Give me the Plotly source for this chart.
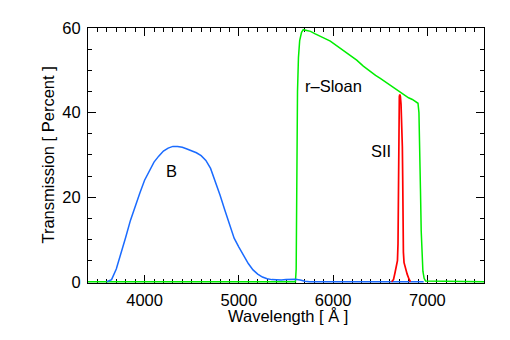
import plotly.graph_objects as go

# B filter
b_wl = [3600, 3650, 3700, 3750, 3800, 3850, 3900, 3950, 4000, 4050, 4100, 4150, 4200, 4250,
        4300, 4350, 4400, 4450, 4500, 4550, 4600, 4650, 4700, 4750, 4800, 4850, 4900, 4950,
        5000, 5050, 5100, 5150, 5200, 5250, 5300, 5350, 5400, 5450, 5500, 5550, 5600, 5650,
        5700, 5750, 6960]
b_tr = [0, 0.5, 3, 6.5, 10.5, 14.5, 18, 21, 24, 26.3, 28.3, 29.7, 30.9, 31.6,
        32.0, 32.0, 31.8, 31.4, 31.0, 30.5, 29.8, 28.7, 26.8, 23.8, 20.5, 17, 13.5, 10.3,
        8.2, 6.3, 4.3, 2.8, 1.8, 1.1, 0.7, 0.5, 0.4, 0.4, 0.5, 0.6, 0.6, 0.4,
        0.1, 0, 0]

# r-Sloan filter
r_wl = [3400, 5600, 5608, 5612, 5616, 5622, 5632, 5645, 5665, 5683, 5720, 5760, 5810, 5860,
        5915, 5970, 6020, 6070, 6125, 6180, 6250, 6320, 6400, 6450, 6500, 6545, 6585, 6620,
        6650, 6680, 6710, 6760, 6800, 6840, 6870, 6900, 6910, 6918, 6926, 6934, 6942, 6952,
        6965, 6980, 7600]
r_tr = [0, 0, 3, 15, 30, 45, 53, 57, 59, 59.6, 59.4, 59.2, 58.6, 58.0,
        57.5, 56.9, 56.1, 55.3, 54.5, 53.7, 52.4, 51.0, 49.6, 48.8, 48.1, 47.4, 46.7, 46.2,
        45.7, 45.2, 44.7, 44.0, 43.5, 43.1, 42.7, 42.2, 40, 33, 22, 12, 6, 2.5,
        0.8, 0.2, 0]

# SII filter
s_wl = [6620, 6640, 6655, 6670, 6682, 6688, 6692, 6695, 6698, 6702, 6707, 6713, 6720, 6728,
        6734, 6738, 6741, 6745, 6752, 6765, 6785, 6805, 6820]
s_tr = [0, 0.5, 2, 3.5, 5, 9, 20, 34, 41, 43.8, 44.3, 43.8, 42, 37,
        32, 24, 14, 7, 4.5, 3.2, 1.8, 0.6, 0]

labels = ["B", "r\u2013Sloan", "SII"]
label_x = [4290, 6000, 6510]
label_y = [26.2, 46.2, 30.9]

x_title = "Wavelength [ \u00c5 ]"
y_title = "Transmission [ Percent ]"

font = "Liberation Sans, Arial, Helvetica, sans-serif"
fs = 16.5

fig = go.Figure()
fig.add_trace(go.Scatter(x=r_wl, y=r_tr, mode="lines", line=dict(color="#00ee00", width=1.5)))
fig.add_trace(go.Scatter(x=b_wl, y=b_tr, mode="lines", line=dict(color="#1a6bff", width=1.5)))
fig.add_trace(go.Scatter(x=s_wl, y=s_tr, mode="lines", line=dict(color="#ff0000", width=1.7)))

for t, x, y in zip(labels, label_x, label_y):
    fig.add_annotation(x=x, y=y, text=t, showarrow=False, xref="x", yref="y",
                       font=dict(size=fs, color="black", family=font))

# axis titles
fig.add_annotation(x=0.506, y=-0.128, xref="paper", yref="paper", text=x_title,
                   showarrow=False, xanchor="center", yanchor="middle",
                   font=dict(size=fs, color="black", family=font))
fig.add_annotation(x=-0.1035, y=0.5, xref="paper", yref="paper", text=y_title,
                   showarrow=False, xanchor="center", yanchor="middle", textangle=-90,
                   font=dict(size=fs, color="black", family=font))

axis_common = dict(
    showline=True, linecolor="black", linewidth=1, mirror="ticks",
    ticks="inside", ticklen=8, tickcolor="black", tickwidth=1,
    showgrid=False, zeroline=False, layer="below traces",
    tickfont=dict(size=fs, color="black", family=font),
)

fig.update_xaxes(range=[3400, 7600], dtick=1000, tick0=0,
                 minor=dict(ticks="inside", ticklen=4, dtick=100, tickcolor="black", showgrid=False),
                 ticklabelstandoff=2,
                 **axis_common)
fig.update_yaxes(range=[-0.3, 60], dtick=20, tick0=0,
                 minor=dict(ticks="inside", ticklen=4, dtick=5, tickcolor="black", showgrid=False),
                 ticklabelstandoff=3,
                 **axis_common)

fig.update_layout(
    width=510, height=340,
    margin=dict(l=88, r=26, t=28, b=57, autoexpand=False),
    plot_bgcolor="white", paper_bgcolor="white",
    showlegend=False,
    font=dict(family=font, color="black"),
)

fig.write_html("out.html", config={"displayModeBar": False},
               post_script="document.body.style.margin='0';")
